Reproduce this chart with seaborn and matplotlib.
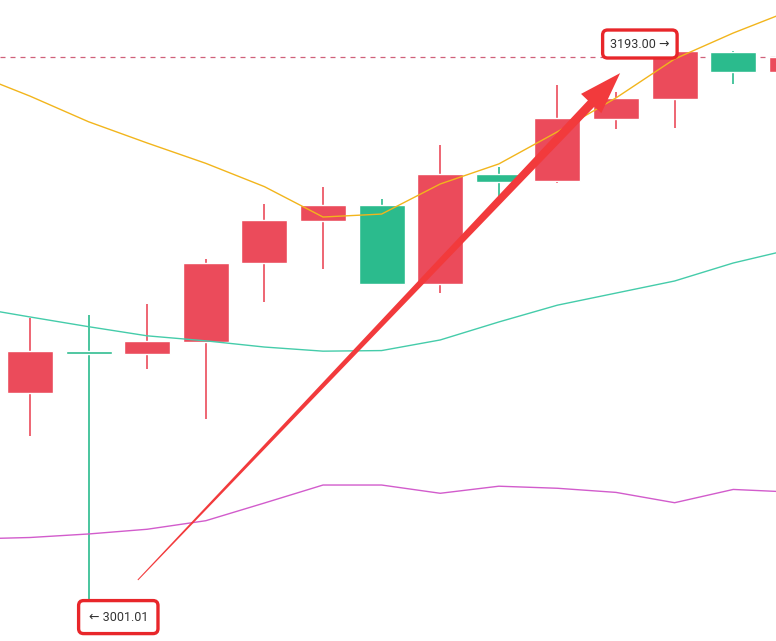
import numpy as np
import pandas as pd
import seaborn as sns
import matplotlib.pyplot as plt
from matplotlib.patches import Polygon

# candle data (index 0..13, last one only partly visible)
opens  = [3077.0, 3091.3, 3090.3, 3094.4, 3121.1, 3135.4, 3140.8, 3114.0, 3151.3, 3149.0, 3169.9, 3176.7, 3192.8, 3185.8]
closes = [3091.2, 3090.3, 3094.6, 3121.1, 3135.7, 3140.8, 3114.0, 3151.3, 3148.6, 3170.3, 3177.2, 3193.0, 3185.9, 3191.1]
highs  = [3102.4, 3103.4, 3107.2, 3122.4, 3141.1, 3146.8, 3142.8, 3161.2, 3153.5, 3181.5, 3179.1, 3193.0, 3193.0, 3193.0]
lows   = [3062.4, 3001.01, 3085.1, 3068.2, 3107.9, 3119.1, 3113.5, 3110.9, 3143.6, 3148.1, 3166.4, 3166.9, 3181.8, 3183.0]

# moving averages, index -1..13
ma_idx = list(range(-1, 14))
ma5  = [3185.6, 3177.7, 3169.0, 3161.8, 3154.9, 3147.0, 3136.7, 3137.7, 3147.9, 3154.7, 3165.6, 3177.1, 3190.3, 3199.1, 3206.9]
ma10 = [3106.2, 3102.8, 3099.5, 3096.4, 3094.7, 3092.6, 3091.2, 3091.4, 3095.0, 3101.1, 3106.8, 3110.9, 3115.0, 3121.1, 3125.8]
ma20 = [3027.5, 3028.0, 3029.2, 3030.8, 3033.7, 3039.7, 3045.8, 3045.8, 3043.0, 3045.4, 3044.7, 3043.3, 3039.8, 3044.3, 3043.4]

last_price = 3191.0
high_label = "3193.00 \u2192"
low_label = "\u2190 3001.01"
# arrow from (index, price) to (index, price)
arrow_start = (1.84, 3013.6)
arrow_end = (10.07, 3185.5)

up_col = "#eb4b5b"
down_col = "#2bbb8d"

sns.set_theme(style="white")
plt.rcParams['font.family'] = ['Roboto', 'DejaVu Sans']

fig = plt.figure(figsize=(7.76, 6.41), dpi=100)
ax = fig.add_axes([0, 0, 1, 1])
ax.set_xlim(-0.512, 12.73)
ax.set_ylim(2992.9, 3210.3)
ax.axis("off")

# moving averages
df = pd.DataFrame({"i": ma_idx, "ma5": ma5, "ma10": ma10, "ma20": ma20})
sns.lineplot(data=df, x="i", y="ma5", ax=ax, color="#f2b51c", lw=1.0, zorder=3)
sns.lineplot(data=df, x="i", y="ma10", ax=ax, color="#45ccaa", lw=1.0, zorder=3)
sns.lineplot(data=df, x="i", y="ma20", ax=ax, color="#d25ccc", lw=1.0, zorder=3)

# last price line
ax.axhline(last_price, color="#d0607a", lw=0.9, ls=(0, (4, 4)), zorder=1)

# candles
x = np.arange(len(opens))
o = np.array(opens)
c = np.array(closes)
cols = [up_col if cc >= oo else down_col for oo, cc in zip(o, c)]
cols[1] = down_col
ax.vlines(x, lows, highs, colors=cols, lw=1.2, zorder=2)
ax.bar(x, np.abs(c - o), bottom=np.minimum(o, c), width=0.785, color=cols, zorder=2)

# high / low markers
box = dict(boxstyle="round,pad=0.6,rounding_size=0.4", fc="white", ec="#e8262a", lw=2.4)
ax.annotate(high_label, xy=(11, highs[11]), xytext=(-5, 7), textcoords="offset pixels",
            ha="right", va="center", fontsize=9, color="#333333", bbox=box, zorder=6)
box2 = dict(boxstyle="round,pad=0.8,rounding_size=0.4", fc="white", ec="#e8262a", lw=2.4)
ax.annotate(low_label, xy=(1, lows[1]), xytext=(0, 0), textcoords="offset pixels",
            ha="left", va="center", fontsize=9, color="#333333", bbox=box2, zorder=6)

# tapered red arrow, built in display space
fig.canvas.draw()
p0 = ax.transData.transform(arrow_start)
p1 = ax.transData.transform(arrow_end)
u = (p1 - p0) / np.linalg.norm(p1 - p0)
n = np.array([-u[1], u[0]])
head_len, head_hw, shaft_w, tail_w = 42, 14, 9, 1
base = p1 - u * head_len
pts = [p0 + n * tail_w / 2, base + n * shaft_w / 2, base + n * head_hw, p1,
       base - n * head_hw, base - n * shaft_w / 2, p0 - n * tail_w / 2]
pts = ax.transData.inverted().transform(np.array(pts))
ax.add_patch(Polygon(pts, closed=True, fc="#f23a3c", ec="none", zorder=5))

fig.savefig("out.png", dpi=100)
